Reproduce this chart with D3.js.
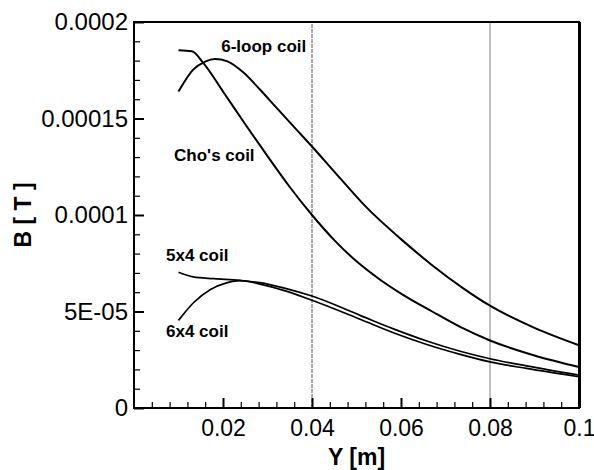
<!DOCTYPE html>
<html>
<head>
<meta charset="utf-8">
<script src="https://cdn.jsdelivr.net/npm/d3@7"></script>
<style>
  body { margin: 0; background: #fff; }
  text { font-family: "Liberation Sans", Arial, Helvetica, sans-serif; fill: #000; }
</style>
</head>
<body>
<div id="chart"></div>
<script>
// tick values / labels
const xTicks = [0.02, 0.04, 0.06, 0.08, 0.1];
const xTickLabels = ["0.02", "0.04", "0.06", "0.08", "0.1"];
const yTicks = [0, 0.00005, 0.0001, 0.00015, 0.0002];
const yTickLabels = ["0", "5E-05", "0.0001", "0.00015", "0.0002"];

// series (Y in m, B in T)
const loop6Y = [0.01, 0.0133, 0.016, 0.0182, 0.021, 0.0246, 0.0283, 0.032, 0.036, 0.04, 0.045, 0.0523, 0.06, 0.067, 0.074, 0.08, 0.09, 0.1];
const loop6B = [1.64e-4, 1.753e-4, 1.795e-4, 1.808e-4, 1.796e-4, 1.738e-4, 1.65e-4, 1.556e-4, 1.455e-4, 1.355e-4, 1.225e-4, 1.038e-4, 8.75e-5, 7.4e-5, 6.2e-5, 5.3e-5, 4.15e-5, 3.25e-5];

const choY = [0.01, 0.013, 0.0156, 0.02, 0.025, 0.03, 0.035, 0.04, 0.045, 0.05, 0.055, 0.06, 0.067, 0.0733, 0.08, 0.09, 0.1];
const choB = [1.853e-4, 1.848e-4, 1.787e-4, 1.64e-4, 1.47e-4, 1.305e-4, 1.145e-4, 1.0e-4, 8.7e-5, 7.6e-5, 6.7e-5, 5.93e-5, 5.0e-5, 4.2e-5, 3.5e-5, 2.72e-5, 2.12e-5];

const c5x4Y = [0.01, 0.0133, 0.018, 0.0238, 0.0283, 0.034, 0.04, 0.0508, 0.0583, 0.0658, 0.0733, 0.08, 0.0882, 0.1];
const c5x4B = [7.03e-5, 6.79e-5, 6.7e-5, 6.61e-5, 6.5e-5, 6.2e-5, 5.8e-5, 4.8e-5, 4.1e-5, 3.47e-5, 2.94e-5, 2.55e-5, 2.18e-5, 1.7e-5];

const c6x4Y = [0.01, 0.0133, 0.0171, 0.0208, 0.0238, 0.0283, 0.034, 0.04, 0.0508, 0.0583, 0.0658, 0.0733, 0.08, 0.0882, 0.1];
const c6x4B = [4.54e-5, 5.44e-5, 6.13e-5, 6.48e-5, 6.6e-5, 6.42e-5, 6.07e-5, 5.58e-5, 4.6e-5, 3.9e-5, 3.29e-5, 2.78e-5, 2.39e-5, 2.05e-5, 1.62e-5];

const seriesNames = ["6-loop coil", "Cho's coil", "5x4 coil", "6x4 coil"];
// where each name sits, in data units
const labelAt = [[0.0196, 1.846e-4], [0.009, 1.278e-4], [0.0072, 7.6e-5], [0.0072, 3.68e-5]];

const width = 594, height = 470;
const margin = { top: 22, right: 15, bottom: 62, left: 134 };

const svg = d3.select("#chart").append("svg")
  .attr("width", width)
  .attr("height", height);

const x = d3.scaleLinear().domain([0, 0.1]).range([margin.left, width - margin.right]);
const y = d3.scaleLinear().domain([0, 0.0002]).range([height - margin.bottom, margin.top]);

// vertical reference lines
svg.append("line")
  .attr("x1", x(0.04)).attr("x2", x(0.04))
  .attr("y1", y(0)).attr("y2", y(0.0002))
  .attr("stroke", "#555").attr("stroke-width", 1)
  .attr("stroke-dasharray", "4,1");
svg.append("line")
  .attr("x1", x(0.08)).attr("x2", x(0.08))
  .attr("y1", y(0)).attr("y2", y(0.0002))
  .attr("stroke", "#aaa").attr("stroke-width", 1.5);

// minor ticks
const xMinor = d3.range(0.004, 0.1, 0.004).filter(v => Math.abs(v / 0.02 - Math.round(v / 0.02)) > 1e-6);
const yMinor = d3.range(1e-5, 0.0002, 1e-5).filter(v => Math.abs(v / 5e-5 - Math.round(v / 5e-5)) > 1e-6);

svg.append("g")
  .attr("transform", "translate(0," + y(0) + ")")
  .call(d3.axisBottom(x).tickValues(xMinor).tickSize(-6).tickFormat(""))
  .call(g => g.select(".domain").remove())
  .selectAll("line").attr("stroke-width", 1.2);

svg.append("g")
  .attr("transform", "translate(" + x(0) + ",0)")
  .call(d3.axisLeft(y).tickValues(yMinor).tickSize(-6).tickFormat(""))
  .call(g => g.select(".domain").remove())
  .selectAll("line").attr("stroke-width", 1.2);

// major ticks + labels
const xAxis = svg.append("g")
  .attr("transform", "translate(0," + y(0) + ")")
  .call(d3.axisBottom(x).tickValues(xTicks).tickSize(-10).tickSizeOuter(0).tickPadding(12)
    .tickFormat((d, i) => xTickLabels[i]));
xAxis.select(".domain").remove();
xAxis.selectAll("line").attr("stroke-width", 2);
xAxis.selectAll("text").style("font-size", "23px").attr("fill", "#000");

const yAxis = svg.append("g")
  .attr("transform", "translate(" + x(0) + ",0)")
  .call(d3.axisLeft(y).tickValues(yTicks).tickSize(-10).tickSizeOuter(0).tickPadding(6)
    .tickFormat((d, i) => yTickLabels[i]));
yAxis.select(".domain").remove();
yAxis.selectAll("line").attr("stroke-width", 2);
yAxis.selectAll("text").style("font-size", "24px").attr("fill", "#000");

// curves
const line = d3.line()
  .x(d => x(d[0]))
  .y(d => y(d[1]))
  .curve(d3.curveMonotoneX);

const curves = [
  { pts: d3.zip(loop6Y, loop6B), w: 2 },
  { pts: d3.zip(choY, choB), w: 2 },
  { pts: d3.zip(c5x4Y, c5x4B), w: 1.7 },
  { pts: d3.zip(c6x4Y, c6x4B), w: 1.7 }
];

svg.append("g")
  .selectAll("path")
  .data(curves)
  .enter()
  .append("path")
  .attr("fill", "none")
  .attr("stroke", "#000")
  .attr("stroke-width", d => d.w)
  .attr("d", d => line(d.pts));

// frame
svg.append("rect")
  .attr("x", x(0)).attr("y", y(0.0002))
  .attr("width", x(0.1) - x(0))
  .attr("height", y(0) - y(0.0002))
  .attr("fill", "none")
  .attr("stroke", "#000")
  .attr("stroke-width", 2);
svg.append("line")
  .attr("x1", x(0.1) + 1).attr("x2", x(0.1) + 1)
  .attr("y1", y(0)).attr("y2", y(0.0002))
  .attr("stroke", "#000").attr("stroke-width", 2);

// curve names
svg.append("g")
  .selectAll("text")
  .data(seriesNames)
  .enter()
  .append("text")
  .attr("x", (d, i) => x(labelAt[i][0]))
  .attr("y", (d, i) => y(labelAt[i][1]))
  .style("font-size", "17px")
  .style("font-weight", "bold")
  .text(d => d);

// axis titles
svg.append("text")
  .attr("x", (x(0) + x(0.1)) / 2)
  .attr("y", 465)
  .attr("text-anchor", "middle")
  .style("font-size", "23px")
  .style("font-weight", "bold")
  .text("Y [m]");

svg.append("text")
  .attr("transform", "translate(31," + (y(0.0001)) + ") rotate(-90)")
  .attr("text-anchor", "middle")
  .style("font-size", "23px")
  .style("font-weight", "bold")
  .text("B [ T ]");
</script>
</body>
</html>
